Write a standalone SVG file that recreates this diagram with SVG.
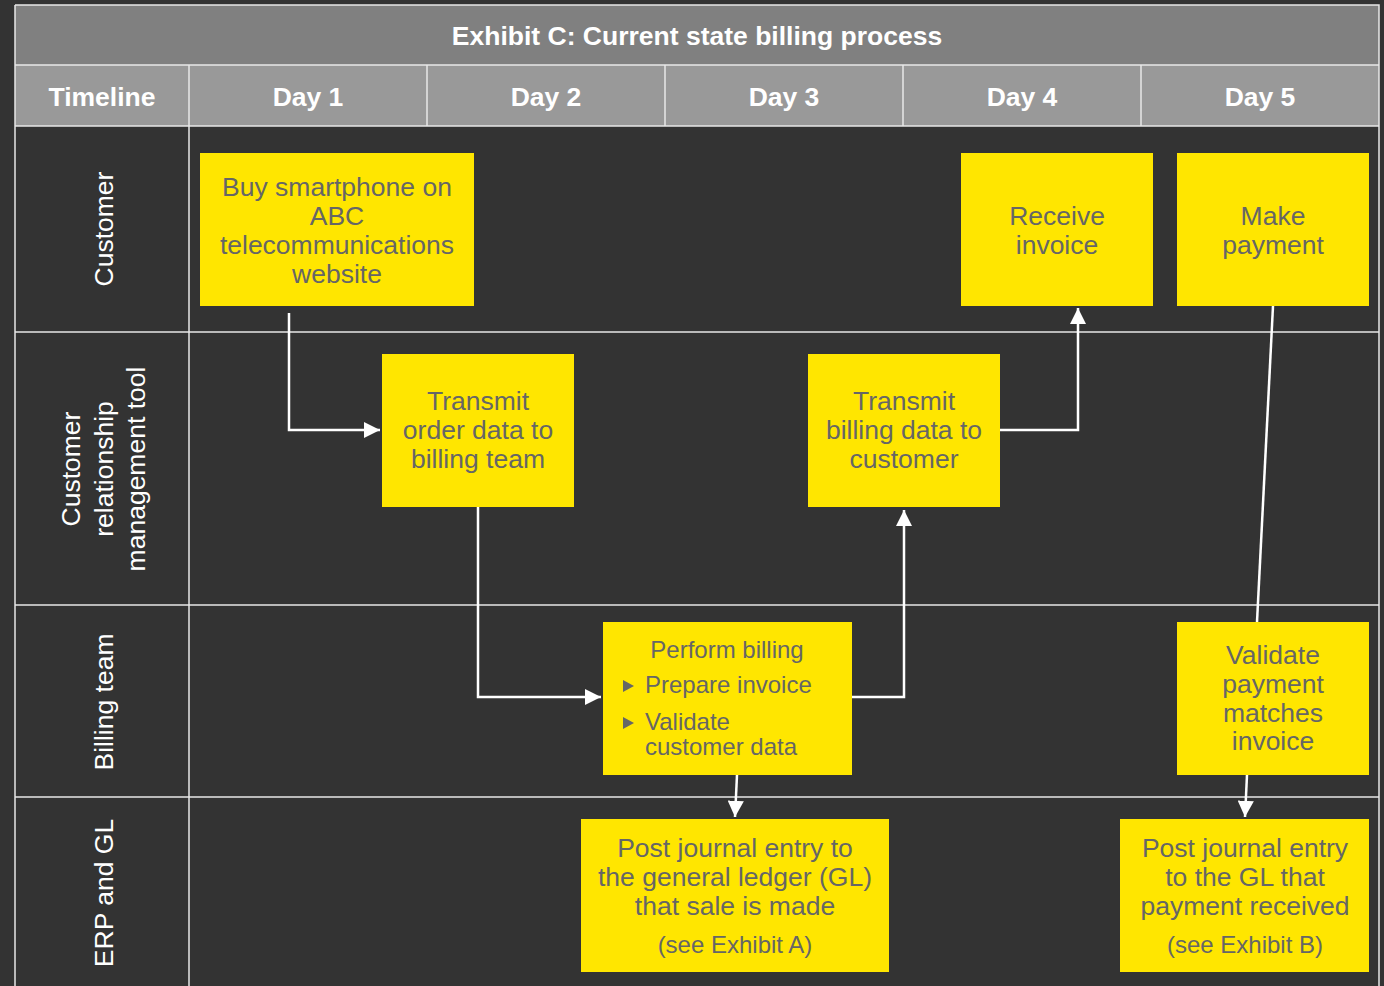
<svg xmlns="http://www.w3.org/2000/svg" width="1384" height="986" viewBox="0 0 1384 986">
<defs>
<style>
.grid{stroke:#e8e8e8;stroke-width:1.5;fill:none}
.hdr{font-family:"Liberation Sans",Arial,sans-serif;font-weight:bold;font-size:26.5px;fill:#ffffff;text-anchor:middle}
.lane{font-family:"Liberation Sans",Arial,sans-serif;font-size:26.5px;fill:#ffffff;text-anchor:middle}
.box{fill:#ffe600}
.t{font-family:"Liberation Sans",Arial,sans-serif;font-size:26.5px;fill:#666666;text-anchor:middle}
.ts{font-family:"Liberation Sans",Arial,sans-serif;font-size:24px;fill:#666666}
.tn{font-family:"Liberation Sans",Arial,sans-serif;font-size:24px;fill:#666666;text-anchor:middle}
.c{stroke:#ffffff;stroke-width:2.5;fill:none}
</style>
<marker id="ah" viewBox="0 0 10 10" refX="10" refY="5" markerWidth="6.5" markerHeight="6.5" markerUnits="strokeWidth" orient="auto">
<path d="M0,0 L10,5 L0,10 z" fill="#ffffff"/>
</marker>
</defs>
<rect x="0" y="0" width="1384" height="986" fill="#333333"/>
<g id="table">
<rect x="15" y="5" width="1364" height="60" fill="#808080"/>
<rect x="15" y="65" width="1364" height="61" fill="#999999"/>
<path class="grid" d="M15,5 H1379 V986 M15,5 V986 M15,65 H1379 M15,126 H1379 M15,332 H1379 M15,605 H1379 M15,797 H1379 M189,65 V986 M427,65 V126 M665,65 V126 M903,65 V126 M1141,65 V126"/>
<text class="hdr" x="697" y="45">Exhibit C: Current state billing process</text>
<text class="hdr" x="102" y="106">Timeline</text>
<text class="hdr" x="308" y="106">Day 1</text>
<text class="hdr" x="546" y="106">Day 2</text>
<text class="hdr" x="784" y="106">Day 3</text>
<text class="hdr" x="1022" y="106">Day 4</text>
<text class="hdr" x="1260" y="106">Day 5</text>
</g>
<g id="lanes">
<text class="lane" transform="translate(113,229) rotate(-90)">Customer</text>
<text class="lane" transform="translate(80,469) rotate(-90)">Customer</text>
<text class="lane" transform="translate(113,469) rotate(-90)">relationship</text>
<text class="lane" transform="translate(145,469) rotate(-90)">management tool</text>
<text class="lane" transform="translate(113,702) rotate(-90)">Billing team</text>
<text class="lane" transform="translate(113,893) rotate(-90)">ERP and GL</text>
</g>
<g id="connectors">
<path class="c" d="M289,313 V430 H380" marker-end="url(#ah)"/>
<path class="c" d="M478,507 V697 H601" marker-end="url(#ah)"/>
<path class="c" d="M852,697 H904 V510" marker-end="url(#ah)"/>
<path class="c" d="M1000,430 H1078 V308" marker-end="url(#ah)"/>
<path class="c" d="M1273,306 L1257,622"/>
<path class="c" d="M737,775 L735,817" marker-end="url(#ah)"/>
<path class="c" d="M1247,775 L1245,817" marker-end="url(#ah)"/>
</g>
<g id="n-buy">
<rect class="box" x="200" y="153" width="274" height="153"/>
<text class="t" x="337" y="196">Buy smartphone on</text>
<text class="t" x="337" y="225">ABC</text>
<text class="t" x="337" y="254">telecommunications</text>
<text class="t" x="337" y="283">website</text>
</g>
<g id="n-receive">
<rect class="box" x="961" y="153" width="192" height="153"/>
<text class="t" x="1057" y="225">Receive</text>
<text class="t" x="1057" y="254">invoice</text>
</g>
<g id="n-pay">
<rect class="box" x="1177" y="153" width="192" height="153"/>
<text class="t" x="1273" y="225">Make</text>
<text class="t" x="1273" y="254">payment</text>
</g>
<g id="n-order">
<rect class="box" x="382" y="354" width="192" height="153"/>
<text class="t" x="478" y="410">Transmit</text>
<text class="t" x="478" y="439">order data to</text>
<text class="t" x="478" y="468">billing team</text>
</g>
<g id="n-billingdata">
<rect class="box" x="808" y="354" width="192" height="153"/>
<text class="t" x="904" y="410">Transmit</text>
<text class="t" x="904" y="439">billing data to</text>
<text class="t" x="904" y="468">customer</text>
</g>
<g id="n-perform">
<rect class="box" x="603" y="622" width="249" height="153"/>
<text class="ts" x="727" y="658" text-anchor="middle">Perform billing</text>
<path d="M623,680 L634,686 L623,692 z" fill="#666666"/>
<text class="ts" x="645" y="693">Prepare invoice</text>
<path d="M623,717 L634,723 L623,729 z" fill="#666666"/>
<text class="ts" x="645" y="730">Validate</text>
<text class="ts" x="645" y="755">customer data</text>
</g>
<g id="n-validate">
<rect class="box" x="1177" y="622" width="192" height="153"/>
<text class="t" x="1273" y="664">Validate</text>
<text class="t" x="1273" y="693">payment</text>
<text class="t" x="1273" y="722">matches</text>
<text class="t" x="1273" y="750">invoice</text>
</g>
<g id="n-postsale">
<rect class="box" x="581" y="819" width="308" height="153"/>
<text class="t" x="735" y="857">Post journal entry to</text>
<text class="t" x="735" y="886">the general ledger (GL)</text>
<text class="t" x="735" y="915">that sale is made</text>
<text class="tn" x="735" y="953">(see Exhibit A)</text>
</g>
<g id="n-postpay">
<rect class="box" x="1120" y="819" width="249" height="153"/>
<text class="t" x="1245" y="857">Post journal entry</text>
<text class="t" x="1245" y="886">to the GL that</text>
<text class="t" x="1245" y="915">payment received</text>
<text class="tn" x="1245" y="953">(see Exhibit B)</text>
</g>
</svg>
